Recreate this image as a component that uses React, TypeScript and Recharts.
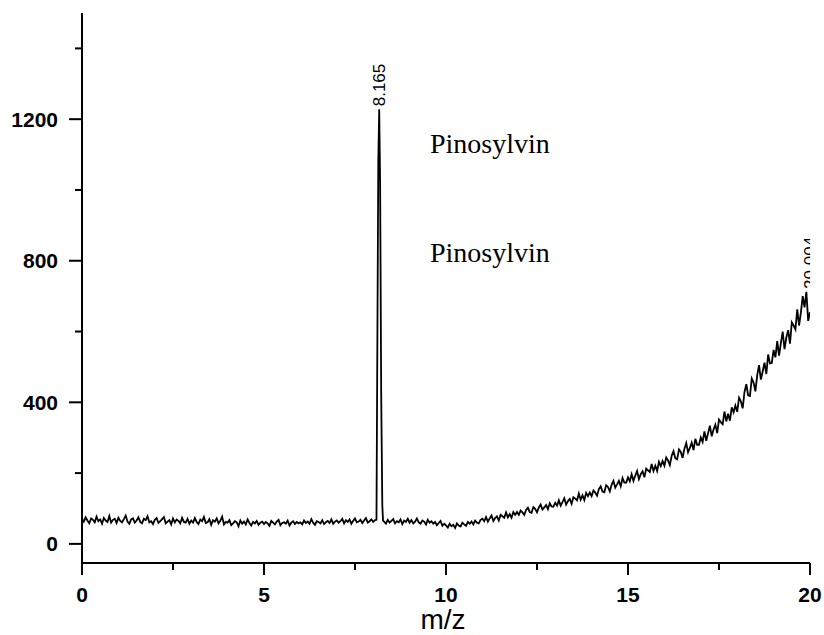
import React from "react";
import { LineChart, Line, XAxis, YAxis, ReferenceDot, Label } from "recharts";

const STEP = 0.05;
const baselineStart = 0;
const baselineValues = [
  70, 63, 75, 66, 58, 72, 68, 61, 77, 64, 69, 57, 73, 66, 62, 79, 60, 68, 71, 59,
  74, 65, 61, 70, 80, 63, 57, 69, 72, 60, 66, 75, 62, 58, 71, 67, 78, 61, 64, 56,
  68, 73, 59, 64, 70, 76, 58, 63, 67, 55, 72, 61, 69, 65, 58, 74, 62, 60, 71, 57,
  66, 60, 73, 62, 56, 69, 64, 76, 59, 61, 70, 54, 67, 63, 72, 58, 65, 77, 55, 62,
  60, 67, 53, 58, 64, 61, 50, 66, 57, 63, 55, 69, 59, 52, 62, 58, 65, 54, 60, 63,
  56, 62, 58, 51, 65, 60, 55, 63, 68, 53, 59, 61, 57, 66, 52, 60, 64, 56, 62, 58,
  61, 55, 66, 59, 63, 57, 70, 60, 54, 64, 62, 58, 67, 56, 61, 65, 59, 69, 57, 63,
  66, 60, 64, 71, 58, 67, 62, 69, 57, 65, 72, 61, 63, 68, 59, 66, 73, 60, 64, 69,
  62, 67,
];

const peakX = [8.09, 8.11, 8.14, 8.165, 8.19, 8.22, 8.25, 8.27];
const peakY = [68, 480, 1080, 1228, 1020, 420, 110, 66];

const tailStart = 8.3;
const tailValues = [
  63, 57, 68, 60, 65, 70, 58, 64, 61, 69, 56, 66, 62, 71,
  60, 67, 58, 63, 72, 61, 57, 66, 63, 55, 68, 60, 64, 57, 62, 53, 59, 65, 51, 57,
  52, 46, 57, 50, 54, 45, 58, 52, 49, 60, 55, 51, 62, 57, 63, 55, 66, 60, 58, 68,
  71, 64, 76, 63, 72, 80, 65, 73, 78, 66, 82, 78, 74, 89, 75, 84, 74, 90, 82, 90,
  82, 94, 89, 82, 96, 102, 90, 88, 104, 99, 89, 103, 111, 97, 103, 110, 98, 115, 106, 105,
  116, 108, 123, 108, 118, 129, 111, 121, 127, 113, 132, 128, 123, 142, 125, 137, 124, 144, 135, 145,
  135, 151, 145, 136, 155, 163, 148, 146, 166, 161, 148, 167, 178, 159, 168, 178, 163, 186, 173, 173,
  188, 177, 197, 178, 193, 206, 183, 197, 205, 188, 213, 208, 203, 226, 206, 221, 206, 232, 220, 234,
  221, 244, 236, 223, 249, 262, 242, 239, 267, 260, 243, 269, 285, 259, 271, 286, 265, 297, 280, 280,
  301, 288, 318, 291, 313, 334, 304, 323, 337, 313, 351, 344, 338, 374, 346, 368, 348, 386, 372, 391,
  373, 413, 403, 383, 429, 451, 420, 418, 467, 456, 431, 477, 505, 464, 487, 512, 480, 535, 510, 511,
  548, 527, 573, 532, 567, 600, 550, 583, 604, 566, 626, 617, 606, 663, 617, 654, 700, 668, 712, 630,
  655,
];

const xTicks = [0, 2.5, 5, 7.5, 10, 12.5, 15, 17.5, 20];
const yTicks = [0, 200, 400, 600, 800, 1000, 1200, 1400];

const peakLabel = { x: 8.165, y: 1228, text: "8.165" };
const endLabel = { x: 20.004, y: 712, text: "20.004" };
const compoundLabels = [
  { x: 9.56, y: 1104, text: "Pinosylvin" },
  { x: 9.56, y: 796, text: "Pinosylvin" },
];

const round = (v: number) => Math.round(v * 1000) / 1000;
const data = [
  ...baselineValues.map((y, i) => ({ x: round(baselineStart + i * STEP), y })),
  ...peakX.map((x, i) => ({ x, y: peakY[i] })),
  ...tailValues.map((y, i) => ({ x: round(tailStart + i * STEP), y })),
];

const FONT = "'Liberation Sans', Arial, sans-serif";

const XTick = (props: any) => {
  const { x, y, payload } = props;
  const v = payload.value;
  const major = v % 5 === 0;
  return (
    <g>
      <line x1={x} y1={y} x2={x} y2={y + (major ? 12 : 7)} stroke="#000" strokeWidth={2} />
      {major && (
        <text x={x} y={y + 39} textAnchor="middle" fontFamily={FONT} fontWeight="bold" fontSize={21} fill="#000">
          {v}
        </text>
      )}
    </g>
  );
};

const YTick = (props: any) => {
  const { x, y, payload } = props;
  const v = payload.value;
  const major = v % 400 === 0;
  return (
    <g>
      <line x1={x - (major ? 13 : 7)} y1={y} x2={x} y2={y} stroke="#000" strokeWidth={2} />
      {major && (
        <text x={x - 24} y={y} dy="0.36em" textAnchor="end" fontFamily={FONT} fontWeight="bold" fontSize={21} fill="#000">
          {v}
        </text>
      )}
    </g>
  );
};

const rotatedText = (text: string, clip: boolean) => (p: any) => {
  const tx = p.cx + 6;
  const ty = p.cy - 3;
  const id = `clip-${text.replace(".", "_")}`;
  return (
    <g>
      {clip && (
        <defs>
          <clipPath id={id} clipPathUnits="userSpaceOnUse">
            <rect x={p.cx - 300} y={0} width={300} height={2000} />
          </clipPath>
        </defs>
      )}
      <g clipPath={clip ? `url(#${id})` : undefined}>
        <text
          x={tx}
          y={ty}
          transform={`rotate(-90, ${tx}, ${ty})`}
          textAnchor="start"
          fontFamily={FONT}
          fontSize={17}
          fill="#000"
        >
          {text}
        </text>
      </g>
    </g>
  );
};

const serifText = (text: string) => (p: any) => (
  <text x={p.cx} y={p.cy} textAnchor="start" fontFamily="'Liberation Serif', 'Times New Roman', serif" fontSize={28} fill="#000">
    {text}
  </text>
);

export default function App() {
  return (
    <div style={{ position: "absolute", left: 0, top: 0, width: 824, height: 635, background: "#fff" }}>
      <LineChart width={824} height={635} data={data} margin={{ top: 13, right: 14, bottom: 0, left: 0 }}>
        <XAxis
          dataKey="x"
          type="number"
          domain={[0, 20]}
          ticks={xTicks}
          interval={0}
          allowDataOverflow
          height={72}
          stroke="#000"
          strokeWidth={2}
          tickLine={false}
          tickSize={0}
          tickMargin={0}
          tick={<XTick />}
        >
          <Label
            content={(p: any) => (
              <text
                x={p.viewBox.x + p.viewBox.width / 2 - 3}
                y={p.viewBox.y + 66}
                textAnchor="middle"
                fontFamily={FONT}
                fontSize={28}
                fill="#000"
              >
                m/z
              </text>
            )}
          />
        </XAxis>
        <YAxis
          type="number"
          domain={[-54, 1500]}
          ticks={yTicks}
          interval={0}
          allowDataOverflow
          width={82}
          stroke="#000"
          strokeWidth={2}
          tickLine={false}
          tickSize={0}
          tickMargin={0}
          tick={<YTick />}
        />
        <Line
          type="linear"
          dataKey="y"
          stroke="#000"
          strokeWidth={1.8}
          dot={false}
          isAnimationActive={false}
        />
        <ReferenceDot x={peakLabel.x} y={peakLabel.y} r={0} ifOverflow="visible" shape={rotatedText(peakLabel.text, false)} />
        <ReferenceDot x={endLabel.x} y={endLabel.y} r={0} ifOverflow="visible" shape={rotatedText(endLabel.text, true)} />
        {compoundLabels.map((c, i) => (
          <ReferenceDot key={i} x={c.x} y={c.y} r={0} ifOverflow="visible" shape={serifText(c.text)} />
        ))}
      </LineChart>
    </div>
  );
}
